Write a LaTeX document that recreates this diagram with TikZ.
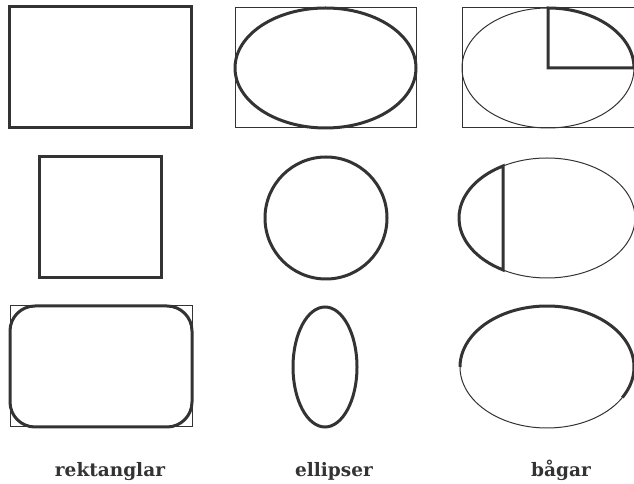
\documentclass[tikz,border=0pt]{standalone}
\usepackage{fontspec}
\newfontfamily\labelfont{DejaVu Serif}
\definecolor{ink}{HTML}{333333}
\begin{document}
\begin{tikzpicture}[x=1pt,y=1pt,
  thickline/.style={draw=ink,line width=3pt},
  thinline/.style={draw=ink,line width=1pt},
  lbl/.style={anchor=base,inner sep=0pt,text=ink,font=\labelfont\bfseries\fontsize{18.5}{20}\selectfont}]
\useasboundingbox (0,0) rectangle (634,484);
% row 1
\draw[thickline] (9,477) rectangle (191,356);
\draw[thinline] (235,476) rectangle (416,356);
\draw[thickline] (325.5,416) ellipse [x radius=90.5,y radius=60];
\draw[thinline] (462,476) rectangle (634.5,356);
\draw[thinline] (548,416) ellipse [x radius=86,y radius=60];
\draw[thickline,line join=miter] (548,416) -- (548,476) arc[start angle=90,end angle=0,x radius=86,y radius=60] -- cycle;
% row 2
\draw[thickline] (39,327) rectangle (161,206);
\draw[thickline] (326,266) circle [radius=61];
\draw[thinline] (547,266) ellipse [x radius=88,y radius=60];
\draw[thickline] (503,318) arc[start angle=120,end angle=240,x radius=88,y radius=60] -- cycle;
% row 3
\draw[thinline] (10,178) rectangle (192,57);
\draw[thickline,rounded corners=25pt] (10,178) rectangle (192,57);
\draw[thickline] (325,117) ellipse [x radius=32,y radius=60];
\draw[thinline] (547,117) ellipse [x radius=87,y radius=61];
\draw[thickline] (547,117) ++(-30:87 and 61) arc[start angle=-30,end angle=180,x radius=87,y radius=61];
% labels
\node[lbl] (l1) at (110,7) {rektanglar};
\node[lbl] (l2) at (334,7) {ellipser};
\node[lbl] (l3) at (561,7) {bågar};
\end{tikzpicture}
\end{document}
